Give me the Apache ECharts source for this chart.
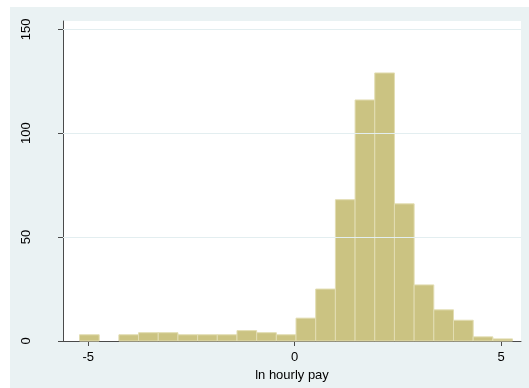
<!DOCTYPE html>
<html>
<head>
<meta charset="utf-8">
<script src="https://cdn.jsdelivr.net/npm/echarts@6/dist/echarts.min.js"></script>
<style>
  html, body { margin: 0; padding: 0; background: #ffffff; }
  #chart { width: 529px; height: 388px; }
</style>
</head>
<body>
<div id="chart"></div>
<script>
// Histogram of log hourly pay: 22 equal-width bins
const binStart = -5.21;
const binWidth = 0.4766;
const counts = [3, 0, 3, 4, 4, 3, 3, 3, 5, 4, 3, 11, 25, 68, 116, 129, 66, 27, 15, 10, 2, 1];
const xTicks = [-5, 0, 5];
const yTicks = [0, 50, 100, 150];

const FONT = 'Liberation Sans, Arial, Helvetica, sans-serif';
const bins = counts.map((c, i) => [binStart + i * binWidth, binStart + (i + 1) * binWidth, c]);

const chart = echarts.init(document.getElementById('chart'), null, { renderer: 'canvas' });
chart.setOption({
  animation: false,
  backgroundColor: '#ffffff',
  graphic: [{
    type: 'rect', z: -10, silent: true,
    shape: { x: 10, y: 7, width: 519, height: 381 },
    style: { fill: '#eaf2f3' }
  }],
  grid: {
    left: 63, right: 8, top: 21, bottom: 47,
    show: true, backgroundColor: '#ffffff', borderWidth: 0
  },
  xAxis: {
    type: 'value',
    min: -5.61, max: 5.48,
    name: 'ln hourly pay',
    nameLocation: 'middle',
    nameGap: 19,
    nameTextStyle: { fontFamily: FONT, fontSize: 13, color: '#000000' },
    axisLine: { show: true, onZero: false, lineStyle: { color: '#4a4a4a', width: 1 } },
    axisTick: { show: true, length: 5, customValues: xTicks, lineStyle: { color: '#4a4a4a' } },
    axisLabel: { customValues: xTicks, margin: 10, fontFamily: FONT, fontSize: 13, color: '#000000' },
    splitLine: { show: false }
  },
  yAxis: {
    type: 'value',
    min: 0, max: 154,
    axisLine: { show: true, onZero: false, lineStyle: { color: '#4a4a4a', width: 1 } },
    axisTick: { show: true, length: 5, customValues: yTicks, lineStyle: { color: '#4a4a4a' } },
    axisLabel: { customValues: yTicks, rotate: 90, margin: 30, fontFamily: FONT, fontSize: 13, color: '#000000' },
    splitLine: { show: false }
  },
  series: [{
    // light horizontal gridlines at the labelled counts
    type: 'line',
    silent: true,
    symbol: 'none',
    data: [],
    markLine: {
      silent: true, symbol: 'none', label: { show: false },
      lineStyle: { color: '#e3eef0', width: 1, type: 'solid' },
      data: yTicks.filter(v => v > 0).map(v => ({ yAxis: v }))
    },
    z: 1
  }, {
    type: 'custom',
    z: 2,
    renderItem: function (params, api) {
      const p0 = api.coord([api.value(0), 0]);
      const p1 = api.coord([api.value(1), api.value(2)]);
      if (api.value(2) <= 0) return null;
      return {
        type: 'rect',
        shape: { x: p0[0], y: p1[1], width: p1[0] - p0[0], height: p0[1] - p1[1] },
        style: { fill: '#cbc382', stroke: '#e2ddb2', lineWidth: 1 }
      };
    },
    encode: { x: [0, 1], y: 2 },
    data: bins
  }]
});
</script>
</body>
</html>
